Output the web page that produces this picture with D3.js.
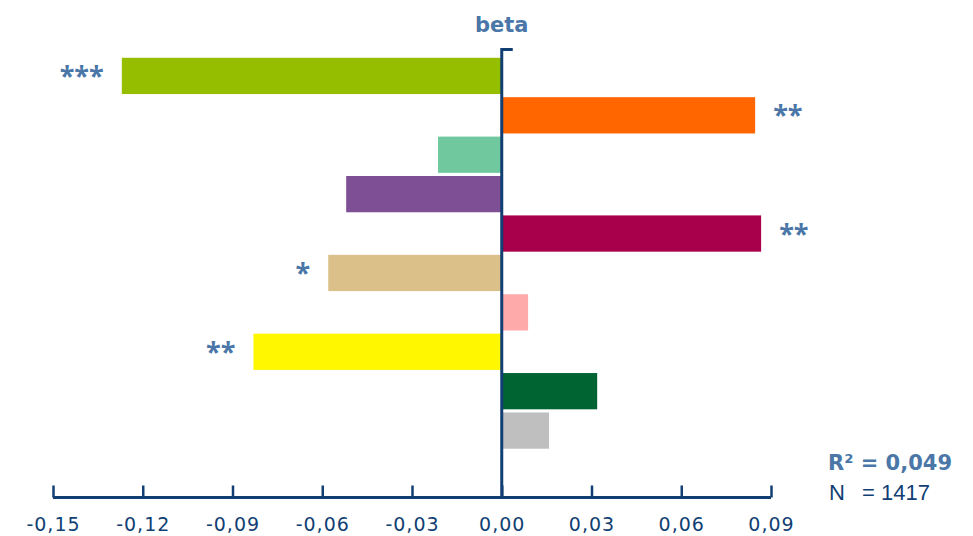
<!DOCTYPE html>
<html>
<head>
<meta charset="utf-8">
<script src="https://cdn.jsdelivr.net/npm/d3@7"></script>
<style>
  html, body { margin: 0; padding: 0; background: #fff; }
  svg { display: block; }
</style>
</head>
<body>
<svg id="chart" width="973" height="536"></svg>
<script>
// Regression coefficients (beta) per predictor, top to bottom
const categories = ["p1", "p2", "p3", "p4", "p5", "p6", "p7", "p8", "p9", "p10"];
const betas = [-0.127, 0.0847, -0.0213, -0.052, 0.0867, -0.058, 0.0088, -0.083, 0.0319, 0.0158];
const stars = ["***", "**", "", "", "**", "*", "", "**", "", ""];
const barColors = ["#96BE00", "#FF6600", "#70C99E", "#7F4F95", "#A8004A",
                   "#DBC08A", "#FFAAAA", "#FFF700", "#006432", "#BFBFBF"];
const tickValues = [-0.15, -0.12, -0.09, -0.06, -0.03, 0.00, 0.03, 0.06, 0.09];
const rSquared = "0,049";
const nObs = "1417";

const svg = d3.select("#chart");
const axisColor = "#123F73";
const labelBlue = "#4A77A8";

const x = d3.scaleLinear().domain([-0.15, 0.09]).range([53, 771]);
const y = d3.scaleBand().domain(categories).range([57, 449.5]).paddingInner(0.08).paddingOuter(0.02);

const axisY = 497.5;

// bars
svg.append("g").selectAll("rect")
  .data(categories)
  .join("rect")
  .attr("x", (d, i) => x(Math.min(0, betas[i])))
  .attr("width", (d, i) => Math.abs(x(betas[i]) - x(0)))
  .attr("y", d => y(d))
  .attr("height", y.bandwidth())
  .attr("fill", (d, i) => barColors[i]);

// significance markers
svg.append("g").selectAll("text")
  .data(categories.filter((d, i) => stars[i]))
  .join("text")
  .attr("x", d => {
    const v = betas[categories.indexOf(d)];
    return v < 0 ? x(v) - 18 : x(v) + 18;
  })
  .attr("y", d => y(d) + y.bandwidth() / 2 + 9)
  .attr("text-anchor", d => betas[categories.indexOf(d)] < 0 ? "end" : "start")
  .attr("font-family", "'Open Sans', 'Noto Sans', sans-serif")
  .attr("font-weight", "bold")
  .attr("font-size", 27)
  .attr("fill", labelBlue)
  .text(d => stars[categories.indexOf(d)]);

// x axis
const xAxis = d3.axisBottom(x)
  .tickValues(tickValues)
  .tickSize(0)
  .tickPadding(0)
  .tickFormat(d => d3.format(".2f")(d).replace(".", ",").replace("−", "-"));

const gx = svg.append("g").attr("transform", `translate(0,${axisY})`).call(xAxis);
gx.select(".domain").remove();
gx.selectAll("text")
  .attr("y", 33.5)
  .attr("dy", 0)
  .attr("font-family", "'DejaVu Sans', sans-serif")
  .attr("font-size", 19)
  .attr("letter-spacing", 1)
  .attr("fill", axisColor);

gx.append("line")
  .attr("x1", x(-0.15)).attr("x2", x(0.09))
  .attr("y1", 0).attr("y2", 0)
  .attr("stroke", axisColor).attr("stroke-width", 3);
gx.selectAll(".tick").append("line")
  .attr("y1", 0).attr("y2", -12)
  .attr("stroke", axisColor).attr("stroke-width", 2.5);

// vertical zero line with cap at the top
svg.append("path")
  .attr("d", `M${x(0) + 11},49.5 H${x(0)} V${axisY}`)
  .attr("fill", "none")
  .attr("stroke", axisColor)
  .attr("stroke-width", 3);

// title
svg.append("text")
  .attr("x", x(0)).attr("y", 32)
  .attr("text-anchor", "middle")
  .attr("font-family", "'DejaVu Sans', sans-serif")
  .attr("font-weight", "bold")
  .attr("font-size", 21)
  .attr("fill", labelBlue)
  .text("beta");

// model fit
svg.append("text")
  .attr("x", 828).attr("y", 470)
  .attr("font-family", "'DejaVu Sans', sans-serif")
  .attr("font-weight", "bold")
  .attr("font-size", 21)
  .attr("fill", labelBlue)
  .text(`R² = ${rSquared}`);

const nText = svg.append("text")
  .attr("y", 500)
  .attr("font-family", "'Liberation Sans', Arial, sans-serif")
  .attr("font-size", 22)
  .attr("fill", axisColor);
nText.append("tspan").attr("x", 829).text("N");
nText.append("tspan").attr("x", 862).text(`= ${nObs}`);
</script>
</body>
</html>
